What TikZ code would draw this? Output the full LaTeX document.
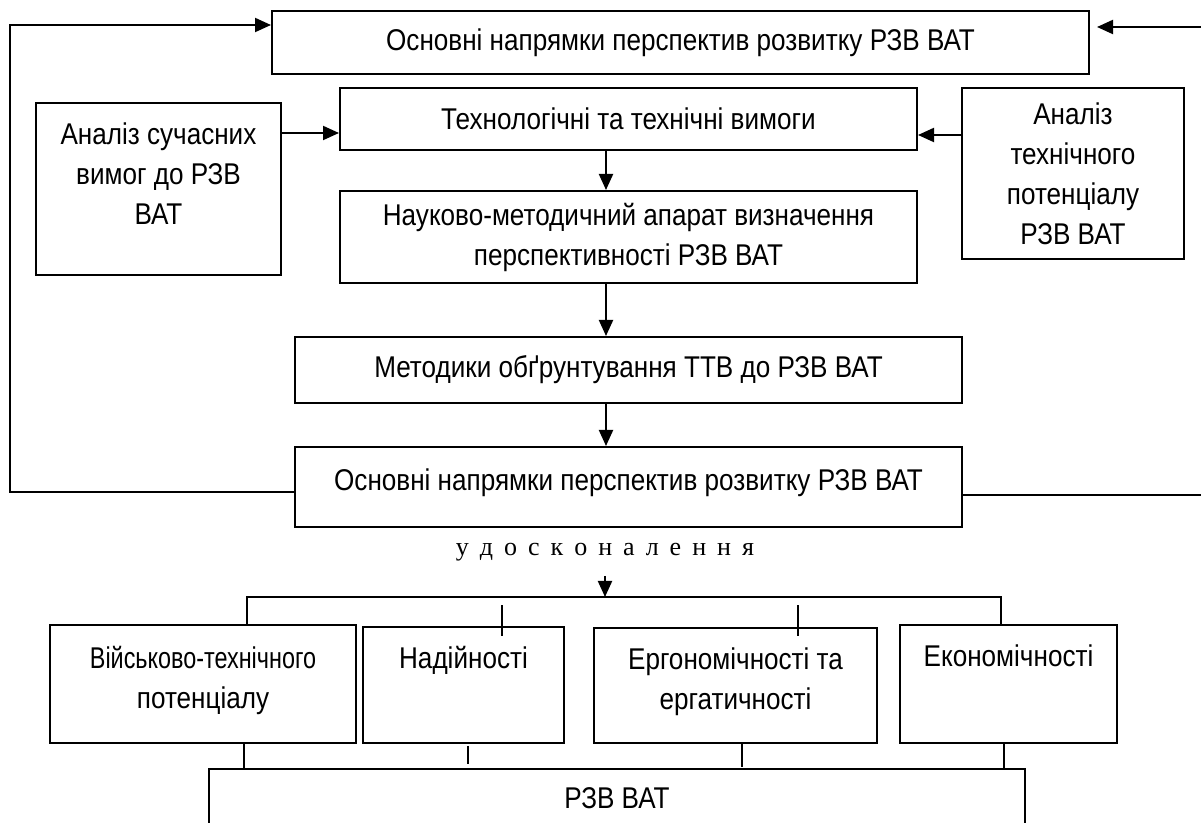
\documentclass[tikz,border=0pt]{standalone}
\usepackage{fontspec}
\setmainfont[FakeStretch=0.87]{Liberation Sans}
\newfontfamily\narrowfont[FakeStretch=0.78]{Liberation Sans}
\newfontfamily\serifspaced{Liberation Serif}
\usetikzlibrary{arrows.meta, positioning}

\begin{document}
\begin{tikzpicture}[
  x=0.5pt, y=-0.5pt,
  line width=1pt,
  box/.style={draw, align=center, inner sep=0pt, font=\fontsize{15}{20}\selectfont}, % all boxes
  arr/.style={-{Triangle[length=8pt,width=7pt]}}
]
\useasboundingbox (0,0) rectangle (1201,823);
% Upper chain of blocks
\node[box, minimum width=408.5pt, minimum height=31.5pt] (top) at (680.5,42.5) {Основні напрямки перспектив розвитку РЗВ ВАТ};
\node[box, minimum width=122.5pt, minimum height=86pt] (left) at (158.5,189) {Аналіз сучасних\\вимог до РЗВ\\ВАТ\\[-5pt]~};
\node[box, minimum width=288.5pt, minimum height=31pt] (tech) at (628.5,119) {Технологічні та технічні вимоги};
\node[box, minimum width=111pt, minimum height=85.5pt] (right) at (1073,173.5) {Аналіз\\технічного\\потенціалу\\РЗВ ВАТ};
\node[box, minimum width=288.5pt, minimum height=46pt] (method) at (628.5,237) {Науково-методичний апарат визначення\\перспективності РЗВ ВАТ};
\node[box, minimum width=333.5pt, minimum height=33pt] (ttv) at (628.5,370) {Методики обґрунтування ТТВ до РЗВ ВАТ};
\node[box, minimum width=333.5pt, minimum height=40pt] (bot) at (628.5,487) {Основні напрямки перспектив розвитку РЗВ ВАТ\\[-13pt]~};
\coordinate (spine) at (606,0);

% Arrows between blocks
\draw[arr] ([yshift=-7pt]tech.west -| left.east) -- ([yshift=-7pt]tech.west);
\draw[arr] ([yshift=-8pt]tech.east -| right.west) -- ([yshift=-8pt]tech.east);
\draw[arr] (tech.south -| spine) -- (method.north -| spine);
\draw[arr] (method.south -| spine) -- (ttv.north -| spine);
\draw[arr] (ttv.south -| spine) -- (bot.north -| spine);
\draw[arr] ([yshift=-2.5pt]bot.west) -| (10,25) -- ([yshift=8.75pt]top.west);
\draw[arr] ([yshift=-4pt]bot.east) -| (1206,27) -- ([xshift=3.5pt,yshift=7.75pt]top.east);

% Lower part
\node[font=\serifspaced\fontsize{13}{16}\selectfont, inner sep=1pt] (impr) at (605,552) {\spaceskip=5.5pt у д о с к о н а л е н н я};
\coordinate (fork) at (605,597);
\node[box, minimum width=153pt, minimum height=59pt] (vts) at (203,684) {{\narrowfont Військово-технічного}\\потенціалу\\[-13pt]~};
\node[box, minimum width=100.5pt, minimum height=58pt] (nad) at (463.5,685) {Надійності\\[8pt]~};
\node[box, minimum width=141.5pt, minimum height=57.5pt] (erg) at (735.5,685.5) {Ергономічності та\\ергатичності\\[-13pt]~};
\node[box, minimum width=108.5pt, minimum height=59pt] (eko) at (1008.5,684) {Економічності\\[8pt]~};
\node[box, minimum width=408pt, minimum height=29pt] (rzv) at (617,798) {РЗВ ВАТ};

\draw[arr] ([yshift=-6pt]impr.south) -- (fork);
\draw ([xshift=22pt]vts.north) |- (fork) -| ([xshift=-3.75pt]eko.north);
\draw ([xshift=19.25pt,yshift=-5pt]nad.north) -- ++(0,-31);
\draw ([xshift=31.25pt,yshift=-4.5pt]erg.north) -- ++(0,-31);
\draw ([xshift=20.5pt]vts.south) -- ([xshift=20.5pt]vts.south |- rzv.north);
\draw ([xshift=2.25pt,yshift=-1pt]nad.south) -- ++(0,18);
\draw ([xshift=3.25pt]erg.south) -- ++(0,23);
\draw ([xshift=-2.25pt]eko.south) -- ([xshift=-2.25pt]eko.south |- rzv.north);
\end{tikzpicture}
\end{document}
